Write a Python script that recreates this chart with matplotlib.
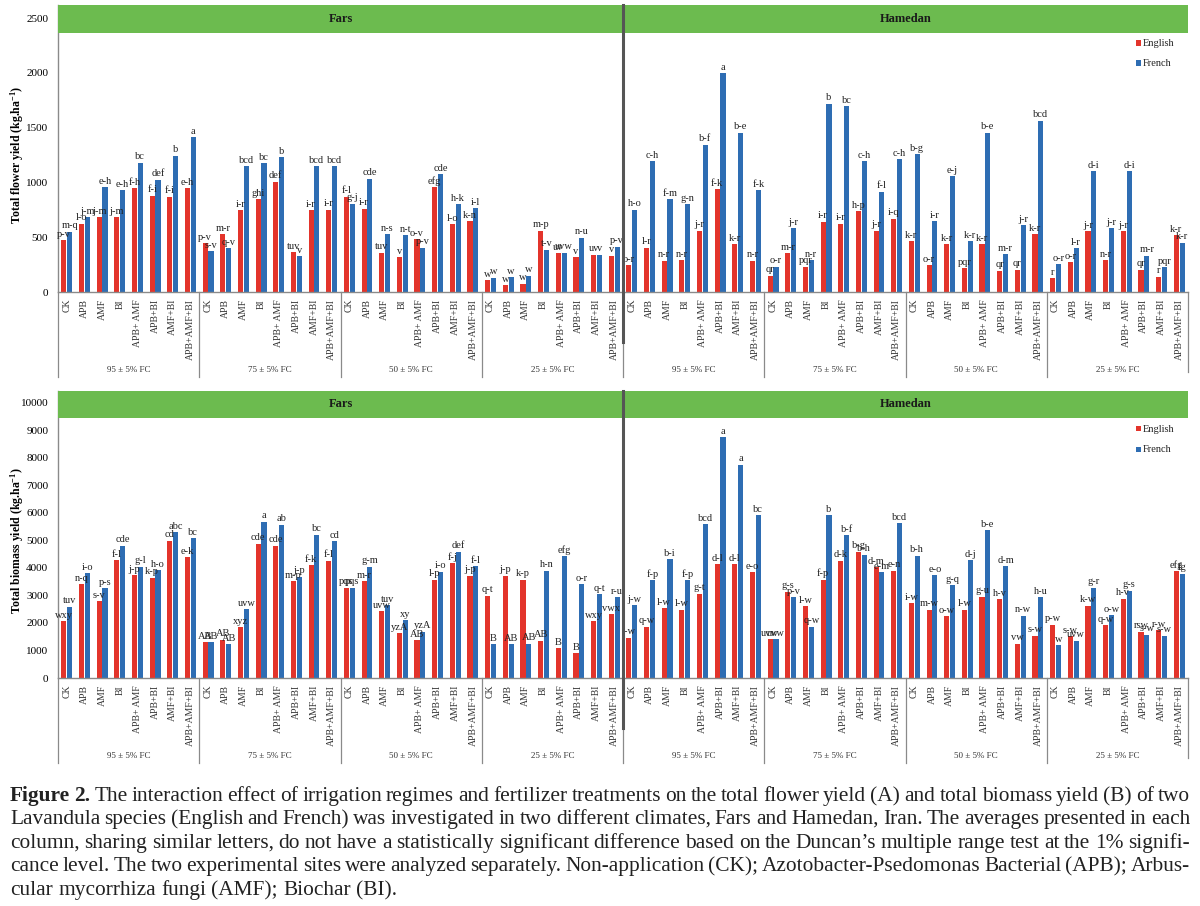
import numpy as np
import matplotlib
matplotlib.use('Agg')
import matplotlib.pyplot as plt
from matplotlib.patches import Rectangle
import matplotlib.transforms as mtransforms

plt.rcParams['font.family'] = ['Liberation Serif', 'DejaVu Serif']
plt.rcParams['mathtext.default'] = 'regular'

# ---------------- data ----------------
sites = ['Fars', 'Hamedan']
fc_levels = ['95 ± 5% FC', '75 ± 5% FC', '50 ± 5% FC', '25 ± 5% FC']
treatments = ['CK', 'APB', 'AMF', 'BI', 'APB+ AMF', 'APB+BI', 'AMF+BI', 'APB+AMF+BI']
species = ['English', 'French']

# Total flower yield (kg/ha), order: Fars 95,75,50,25 then Hamedan 95,75,50,25
flower_english = [470, 625, 685, 685, 945, 880, 870, 945,
                  445, 530, 745, 845, 1005, 365, 745, 750,
                  870, 760, 360, 315, 480, 955, 620, 645,
                  110, 60, 75, 560, 355, 315, 340, 330,
                  245, 405, 285, 290, 560, 940, 435, 285,
                  150, 355, 230, 640, 625, 735, 560, 670,
                  465, 245, 435, 220, 435, 195, 205, 525,
                  125, 270, 555, 290, 555, 205, 140, 520]
flower_french = [550, 685, 955, 930, 1180, 1025, 1245, 1415,
                 370, 400, 1150, 1175, 1230, 325, 1150, 1150,
                 805, 1035, 525, 520, 405, 1075, 800, 765,
                 130, 135, 150, 385, 360, 495, 340, 415,
                 750, 1195, 845, 800, 1345, 1995, 1455, 930,
                 230, 580, 290, 1720, 1695, 1195, 915, 1210,
                 1260, 645, 1055, 465, 1455, 345, 610, 1565,
                 255, 400, 1100, 580, 1100, 330, 225, 450]
flower_english_letters = ['p-v', 'l-o', 'j-m', 'j-m', 'f-h', 'f-i', 'f-i', 'e-h',
                          'p-v', 'm-r', 'i-r', 'ghi', 'def', 'tuv', 'i-r', 'i-r',
                          'f-l', 'i-r', 'tuv', 'v', 'o-v', 'efg', 'l-o', 'k-n',
                          'w', 'w', 'w', 'm-p', 'uv', 'v', 'uv', 'v',
                          'o-r', 'l-r', 'n-r', 'n-r', 'j-r', 'f-k', 'k-r', 'n-r',
                          'qr', 'm-r', 'pqr', 'i-r', 'i-r', 'h-p', 'j-r', 'i-q',
                          'k-r', 'o-r', 'k-r', 'pqr', 'k-r', 'qr', 'qr', 'k-r',
                          'r', 'o-r', 'j-r', 'n-r', 'j-r', 'qr', 'r', 'k-r']
flower_french_letters = ['m-q', 'j-m', 'e-h', 'e-h', 'bc', 'def', 'b', 'a',
                         's-v', 'q-v', 'bcd', 'bc', 'b', 'v', 'bcd', 'bcd',
                         'g-j', 'cde', 'n-s', 'n-t', 'p-v', 'cde', 'h-k', 'i-l',
                         'w', 'w', 'w', 't-v', 'uvw', 'n-u', 'v', 'p-v',
                         'h-o', 'c-h', 'f-m', 'g-n', 'b-f', 'a', 'b-e', 'f-k',
                         'o-r', 'j-r', 'n-r', 'b', 'bc', 'c-h', 'f-l', 'c-h',
                         'b-g', 'i-r', 'e-j', 'k-r', 'b-e', 'm-r', 'j-r', 'bcd',
                         'o-r', 'l-r', 'd-i', 'j-r', 'd-i', 'm-r', 'pqr', 'k-r']

# Total biomass yield (kg/ha)
biomass_english = [2070, 3410, 2800, 4290, 3730, 3650, 4990, 4390,
                   1310, 1390, 1840, 4880, 4810, 3510, 4100, 4270,
                   3280, 3520, 2430, 1620, 1380, 3570, 4180, 3720,
                   2990, 3720, 3570, 1350, 1080, 910, 2070, 2320,
                   1460, 1860, 2530, 2490, 3070, 4130, 4130, 3850,
                   1410, 3140, 2610, 3580, 4270, 4590, 4030, 3900,
                   2710, 2480, 2240, 2490, 2950, 2860, 1250, 1540,
                   1940, 1530, 2630, 1920, 2890, 1680, 1740, 3890]
biomass_french = [2590, 3800, 3270, 4810, 4050, 3930, 5300, 5090,
                  1310, 1230, 2500, 5690, 5570, 3680, 5210, 4980,
                  3280, 4050, 2650, 2100, 1680, 3860, 4590, 4070,
                  1230, 1240, 1250, 3900, 4440, 3400, 3040, 2930,
                  2650, 3560, 4330, 3560, 5590, 8760, 7750, 5910,
                  1410, 2930, 1860, 5910, 5190, 4480, 3850, 5630,
                  4450, 3740, 3370, 4280, 5380, 4070, 2260, 2930,
                  1190, 1360, 3280, 2280, 3170, 1580, 1540, 3790]
biomass_english_letters = ['wxy', 'n-q', 's-v', 'f-l', 'j-p', 'k-p', 'cd', 'e-k',
                           'AB', 'AB', 'xyz', 'cde', 'cde', 'm-p', 'f-k', 'f-l',
                           'pqs', 'm-r', 'uvw', 'yzA', 'AB', 'l-p', 'f-j', 'j-p',
                           'q-t', 'j-p', 'k-p', 'AB', 'B', 'B', 'wxy', 'vwx',
                           't-w', 'q-w', 'l-w', 'l-w', 'g-t', 'd-l', 'd-l', 'e-o',
                           'uvw', 'g-s', 'l-w', 'f-p', 'd-k', 'b-g', 'd-m', 'e-n',
                           'i-w', 'm-w', 'o-w', 'l-w', 'g-u', 'h-v', 'vw', 's-w',
                           'p-w', 's-w', 'k-w', 'q-w', 'h-v', 'rsw', 'r-w', 'efg']
biomass_french_letters = ['tuv', 'i-o', 'p-s', 'cde', 'g-l', 'h-o', 'abc', 'bc',
                          'AB', 'AB', 'uvw', 'a', 'ab', 'j-p', 'bc', 'cd',
                          'pqs', 'g-m', 'tuv', 'xy', 'yzA', 'i-o', 'def', 'f-l',
                          'B', 'AB', 'AB', 'h-n', 'efg', 'o-r', 'q-t', 'r-u',
                          'j-w', 'f-p', 'b-i', 'f-p', 'bcd', 'a', 'a', 'bc',
                          'uvw', 'p-v', 'q-w', 'b', 'b-f', 'b-h', 'e-m', 'bcd',
                          'b-h', 'e-o', 'g-q', 'd-j', 'b-e', 'd-m', 'n-w', 'h-u',
                          'w', 'uvw', 'g-r', 'o-w', 'g-s', 's-w', 's-w', 'fg']

caption_lines = [
    "Figure 2. The interaction effect of irrigation regimes and fertilizer treatments on the total flower yield (A) and total biomass yield (B) of two",
    "Lavandula species (English and French) was investigated in two different climates, Fars and Hamedan, Iran. The averages presented in each",
    "column, sharing similar letters, do not have a statistically significant difference based on the Duncan\u2019s multiple range test at the 1% signifi-",
    "cance level. The two experimental sites were analyzed separately. Non-application (CK); Azotobacter-Psedomonas Bacterial (APB); Arbus-",
    "cular mycorrhiza fungi (AMF); Biochar (BI).",
]

# ---------------- style ----------------
RED = '#e3342b'
BLUE = '#2e6db3'
GREEN = '#6cbb4f'
AXIS = '#8a8a8a'

W, H = 1200, 906
fig = plt.figure(figsize=(W / 100, H / 100), dpi=100)


def fx(px):
    return px / W


def fy(py):
    return 1 - py / H


def draw_panel(top_px, bottom_px, ytop, band_lo, ymax, ystep, eng, fr, eng_lab, fr_lab, ylabel):
    left_px, right_px = 58, 1188
    ax = fig.add_axes([fx(left_px), fy(bottom_px), (right_px - left_px) / W, (bottom_px - top_px) / H])
    n = len(eng)
    x = np.arange(n)
    ax.bar(x - 0.165, eng, width=0.29, color=RED, zorder=2)
    ax.bar(x + 0.165, fr, width=0.29, color=BLUE, zorder=2)
    ax.set_xlim(-0.5, n - 0.5)
    ax.set_ylim(0, ytop)
    ax.set_yticks(np.arange(0, ymax + 1, ystep))
    ax.set_yticklabels([f'{v:d}' for v in np.arange(0, ymax + 1, ystep)], fontsize=8)
    ax.set_xticks(x)
    ax.set_xticklabels([treatments[i % 8] for i in range(n)], rotation=90, fontsize=7, color='#333333')
    ax.tick_params(axis='both', length=0)
    ax.tick_params(axis='y', pad=7)
    ax.tick_params(axis='x', pad=5)
    for s in ['top', 'right']:
        ax.spines[s].set_visible(False)
    for s in ['left', 'bottom']:
        ax.spines[s].set_color(AXIS)
        ax.spines[s].set_linewidth(1.0)

    # letters above bars
    for i in range(n):
        ax.annotate(eng_lab[i], (x[i] - 0.165, eng[i]), xytext=(0, 1), textcoords='offset points',
                    ha='center', va='bottom', fontsize=7.5, color='#222222', zorder=5)
        ax.annotate(fr_lab[i], (x[i] + 0.165, fr[i]), xytext=(0, 1), textcoords='offset points',
                    ha='center', va='bottom', fontsize=7.5, color='#222222', zorder=5)

    # green header bands with site names
    half = n // 2
    for k, site in enumerate(sites):
        x0 = -0.5 + k * half
        ax.add_patch(Rectangle((x0, band_lo), half, ytop - band_lo, facecolor=GREEN,
                               edgecolor='none', zorder=3, clip_on=False))
        ax.text(x0 + half / 2, (band_lo + ytop) / 2, site, ha='center', va='center',
                fontsize=9, fontweight='bold', color='#1a1a1a', zorder=4)

    trans = mtransforms.blended_transform_factory(ax.transData, ax.transAxes)
    ax_h = bottom_px - top_px
    # group separators below axis
    for g in range(0, n + 1, 8):
        depth = -85 / ax_h if g < n else -80 / ax_h
        ax.plot([g - 0.5, g - 0.5], [0, depth], transform=trans, color=AXIS, lw=0.9,
                clip_on=False, zorder=1)
    # FC labels
    for g in range(n // 8):
        ax.text(g * 8 + 3.5, -78 / ax_h, fc_levels[g % 4], transform=trans, ha='center',
                va='center', fontsize=6.5, color='#333333')
    # site divider
    ax.plot([half - 0.5, half - 0.5], [-50 / ax_h, 1.0], transform=trans, color='#555555',
            lw=2.2, clip_on=False, zorder=6)

    # y label
    fig.text(fx(17), fy((top_px + 13 + bottom_px) / 2), ylabel, rotation=90, ha='center',
             va='center', fontsize=8.5, fontweight='bold')

    # legend
    for j, (sp, col) in enumerate(zip(species, [RED, BLUE])):
        yc = top_px + 38 + 20 * j
        fig.patches.append(Rectangle((fx(1136), fy(yc + 2.5)), 5 / W, 5 / H, facecolor=col,
                                     edgecolor='none', transform=fig.transFigure, figure=fig))
        fig.text(fx(1143), fy(yc), sp, ha='left', va='center', fontsize=7.5, color='#222222')
    return ax


draw_panel(5, 292, 2619, 2363, 2500, 500, flower_english, flower_french,
           flower_english_letters, flower_french_letters, 'Total flower yield (kg.ha$^{-1}$)')
draw_panel(391, 678, 10436, 9455, 10000, 1000, biomass_english, biomass_french,
           biomass_english_letters, biomass_french_letters, 'Total biomass yield (kg.ha$^{-1}$)')

# ---------------- caption (justified) ----------------
renderer = fig.canvas.get_renderer()
cap_left, cap_right = 10, 1190
line_baseline = [801, 824, 848, 871, 895]


def word_w(w, size, weight):
    t = fig.text(0, 0, w, fontsize=size, fontweight=weight)
    bb = t.get_window_extent(renderer)
    t.remove()
    return bb.width


def line_natural(li, size):
    words = caption_lines[li].split(' ')
    sp = word_w('a b', size, 'normal') - word_w('ab', size, 'normal')
    tot = 0
    for k, w in enumerate(words):
        wt = 'bold' if (li == 0 and k < 2) else 'normal'
        tot += word_w(w, size, wt)
    return tot + sp * (len(words) - 1) * 0.8


base = 13.0
nat = max(line_natural(li, base) for li in range(len(caption_lines) - 1))
size = base * (cap_right - cap_left) / nat
space_w = word_w('a b', size, 'normal') - word_w('ab', size, 'normal')
for li, line in enumerate(caption_lines):
    words = line.split(' ')
    weights = ['normal'] * len(words)
    if li == 0:
        weights[0] = 'bold'
        weights[1] = 'bold'
    widths = [word_w(w, size, wt) for w, wt in zip(words, weights)]
    if li < len(caption_lines) - 1:
        gap = (cap_right - cap_left - sum(widths)) / (len(words) - 1)
    else:
        gap = space_w
    xpos = cap_left
    for w, wt, ww in zip(words, weights, widths):
        fig.text(fx(xpos), fy(line_baseline[li]), w, fontsize=size, fontweight=wt,
                 ha='left', va='baseline', color='#222222')
        xpos += ww + gap

fig.savefig('out.png', dpi=100)
